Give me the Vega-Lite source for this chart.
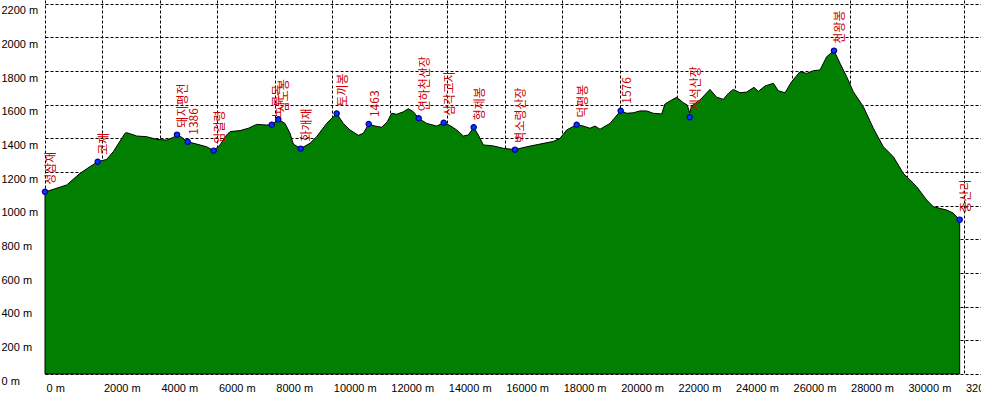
{
  "$schema": "https://vega.github.io/schema/vega-lite/v6.json",
  "width": 936,
  "height": 374,
  "autosize": {"type": "none"},
  "padding": {"left": 45, "top": 0, "right": 0, "bottom": 20},
  "background": "white",
  "config": {
    "view": {"stroke": null},
    "axis": {
      "grid": true,
      "gridColor": "#000000",
      "gridDash": [3, 2],
      "gridWidth": 1,
      "gridOpacity": 1,
      "ticks": false,
      "tickSize": 0,
      "domain": false,
      "title": null,
      "labelFont": "Liberation Sans",
      "labelFontSize": 11,
      "labelColor": "#000000",
      "labelOverlap": false,
      "labelBound": false,
      "labelFlush": false,
      "zindex": 1
    }
  },
  "datasets": {
    "profile": [
      {"d": 0, "e": 1081}, {"d": 755, "e": 1123}, {"d": 1218, "e": 1192}, {"d": 1566, "e": 1232},
      {"d": 1834, "e": 1261}, {"d": 2147, "e": 1275}, {"d": 2377, "e": 1321}, {"d": 2784, "e": 1430},
      {"d": 2843, "e": 1434}, {"d": 3191, "e": 1414}, {"d": 3539, "e": 1410}, {"d": 3887, "e": 1394},
      {"d": 4235, "e": 1390}, {"d": 4467, "e": 1406}, {"d": 4594, "e": 1422}, {"d": 4757, "e": 1406},
      {"d": 4966, "e": 1380}, {"d": 5279, "e": 1366}, {"d": 5627, "e": 1350}, {"d": 5871, "e": 1327},
      {"d": 6091, "e": 1361}, {"d": 6323, "e": 1420}, {"d": 6439, "e": 1440}, {"d": 6787, "e": 1446},
      {"d": 7077, "e": 1460}, {"d": 7367, "e": 1483}, {"d": 7715, "e": 1479}, {"d": 7890, "e": 1481},
      {"d": 8120, "e": 1513}, {"d": 8353, "e": 1489}, {"d": 8527, "e": 1430}, {"d": 8643, "e": 1366},
      {"d": 8898, "e": 1339}, {"d": 9223, "e": 1371}, {"d": 9455, "e": 1410}, {"d": 9803, "e": 1489},
      {"d": 10152, "e": 1547}, {"d": 10383, "e": 1489}, {"d": 10615, "e": 1450}, {"d": 10905, "e": 1418},
      {"d": 11079, "e": 1430}, {"d": 11266, "e": 1485}, {"d": 11485, "e": 1473}, {"d": 11718, "e": 1466},
      {"d": 11913, "e": 1499}, {"d": 12066, "e": 1549}, {"d": 12240, "e": 1543}, {"d": 12472, "e": 1558},
      {"d": 12646, "e": 1576}, {"d": 12820, "e": 1558}, {"d": 13006, "e": 1519}, {"d": 13284, "e": 1489},
      {"d": 13632, "e": 1473}, {"d": 13876, "e": 1493}, {"d": 14096, "e": 1476}, {"d": 14328, "e": 1450},
      {"d": 14560, "e": 1414}, {"d": 14734, "e": 1420}, {"d": 14920, "e": 1466}, {"d": 15081, "e": 1420},
      {"d": 15255, "e": 1361}, {"d": 15603, "e": 1355}, {"d": 15951, "e": 1341}, {"d": 16357, "e": 1333},
      {"d": 16765, "e": 1350}, {"d": 17228, "e": 1366}, {"d": 17691, "e": 1382}, {"d": 17924, "e": 1400},
      {"d": 18157, "e": 1450}, {"d": 18504, "e": 1481}, {"d": 18736, "e": 1473}, {"d": 18968, "e": 1460},
      {"d": 19142, "e": 1473}, {"d": 19316, "e": 1454}, {"d": 19664, "e": 1489}, {"d": 20036, "e": 1564},
      {"d": 20245, "e": 1549}, {"d": 20474, "e": 1552}, {"d": 20708, "e": 1563}, {"d": 20940, "e": 1563},
      {"d": 21170, "e": 1549}, {"d": 21462, "e": 1545}, {"d": 21577, "e": 1604}, {"d": 21811, "e": 1628},
      {"d": 21985, "e": 1644}, {"d": 22215, "e": 1612}, {"d": 22354, "e": 1598}, {"d": 22437, "e": 1551},
      {"d": 22507, "e": 1592}, {"d": 22795, "e": 1628}, {"d": 23144, "e": 1691}, {"d": 23376, "e": 1644},
      {"d": 23608, "e": 1632}, {"d": 23782, "e": 1667}, {"d": 23955, "e": 1691}, {"d": 24188, "e": 1671},
      {"d": 24420, "e": 1675}, {"d": 24675, "e": 1703}, {"d": 24825, "e": 1679}, {"d": 25058, "e": 1711},
      {"d": 25348, "e": 1727}, {"d": 25522, "e": 1683}, {"d": 25755, "e": 1671}, {"d": 25987, "e": 1737},
      {"d": 26277, "e": 1796}, {"d": 26510, "e": 1786}, {"d": 26742, "e": 1802}, {"d": 26973, "e": 1806},
      {"d": 27205, "e": 1885}, {"d": 27460, "e": 1921}, {"d": 27669, "e": 1846}, {"d": 27901, "e": 1766},
      {"d": 28133, "e": 1677}, {"d": 28481, "e": 1588}, {"d": 28829, "e": 1460}, {"d": 29177, "e": 1350},
      {"d": 29525, "e": 1291}, {"d": 29873, "e": 1192}, {"d": 30105, "e": 1153}, {"d": 30337, "e": 1113},
      {"d": 30685, "e": 1034}, {"d": 30917, "e": 994}, {"d": 31381, "e": 974}, {"d": 31600, "e": 957},
      {"d": 31834, "e": 917}
    ],
    "peaks": [
      {"name": "성삼재", "d": 0, "e": 1083},
      {"name": "코재", "d": 1834, "e": 1261},
      {"name": "돼지평전", "d": 4594, "e": 1422},
      {"name": "1386", "d": 4966, "e": 1380},
      {"name": "임걸령", "d": 5871, "e": 1327},
      {"name": "노루목", "d": 7890, "e": 1481},
      {"name": "삼도봉", "d": 8120, "e": 1513},
      {"name": "화개재", "d": 8898, "e": 1339},
      {"name": "토끼봉", "d": 10152, "e": 1547},
      {"name": "1463", "d": 11266, "e": 1485},
      {"name": "연하천산장", "d": 13006, "e": 1519},
      {"name": "삼각고지", "d": 13876, "e": 1493},
      {"name": "형제봉", "d": 14920, "e": 1466},
      {"name": "벽소령산장", "d": 16357, "e": 1333},
      {"name": "덕평봉", "d": 18504, "e": 1481},
      {"name": "1576", "d": 20036, "e": 1564},
      {"name": "세석산장", "d": 22437, "e": 1525},
      {"name": "천왕봉", "d": 27460, "e": 1921},
      {"name": "중산리", "d": 31834, "e": 917}
    ]
  },
  "encoding": {
    "x": {
      "field": "d",
      "type": "quantitative",
      "scale": {"domain": [0, 32576], "nice": false, "zero": false},
      "axis": {
        "values": [0, 2000, 4000, 6000, 8000, 10000, 12000, 14000, 16000, 18000, 20000, 22000, 24000, 26000, 28000, 30000, 32000],
        "labelExpr": "datum.value + ' m'",
        "labelAlign": "left",
        "labelBaseline": "alphabetic",
        "labelPadding": 17,
        "labelOffset": 1
      }
    },
    "y": {
      "field": "e",
      "type": "quantitative",
      "scale": {"domain": [0, 2222], "nice": false, "zero": false},
      "axis": {
        "values": [0, 200, 400, 600, 800, 1000, 1200, 1400, 1600, 1800, 2000, 2200],
        "labelExpr": "datum.value + ' m'",
        "labelAlign": "left",
        "labelBaseline": "alphabetic",
        "labelPadding": 44,
        "labelOffset": 10
      }
    }
  },
  "layer": [
    {
      "data": {"name": "profile"},
      "mark": {"type": "area", "color": "#007f00", "stroke": "#000000", "strokeWidth": 1, "interpolate": "linear", "fillOpacity": 1}
    },
    {
      "data": {"name": "peaks"},
      "mark": {"type": "point", "filled": true, "fill": "#0038ff", "stroke": "#000090", "strokeWidth": 1.2, "size": 28, "opacity": 1}
    },
    {
      "data": {"name": "peaks"},
      "mark": {"type": "text", "angle": 270, "align": "left", "baseline": "middle", "dx": 7, "dy": 6, "font": "Noto Sans CJK KR", "fontSize": 12, "color": "#cc0000"},
      "encoding": {"text": {"field": "name"}}
    }
  ]
}
